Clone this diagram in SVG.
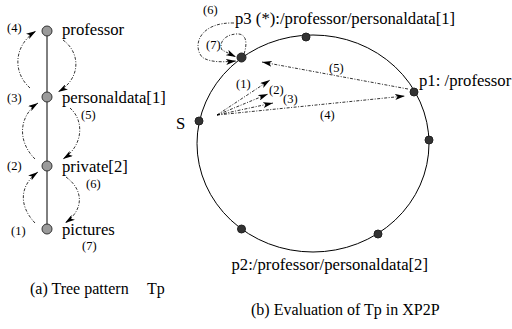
<svg xmlns="http://www.w3.org/2000/svg" width="512" height="329" viewBox="0 0 512 329">
<style>
text{font-family:'Liberation Serif','DejaVu Serif',serif;fill:#000}
.t{font-size:16.7px}
.s{font-size:12.5px}
.c{font-size:16px}
.tn{fill:#9a9a9a;stroke:#333;stroke-width:1}
.rn{fill:#333;stroke:#222;stroke-width:1}
.e{fill:none;stroke:#000;stroke-width:1}
.d{fill:none;stroke:#000;stroke-width:0.8;stroke-dasharray:3,1.5,1,1.5}
</style>
<defs>
<marker id="ah" viewBox="0 0 10 6" refX="10" refY="3" markerWidth="10" markerHeight="6" markerUnits="userSpaceOnUse" orient="auto">
<path d="M0,0 L10,3 L0,6 L2.5,3 Z" fill="#000"/>
</marker>
</defs>
<rect width="512" height="329" fill="#fff"/>
<g id="tree-edges">
<line class="e" x1="47" y1="31" x2="47" y2="229"/>
</g>
<g id="n-professor"><circle class="tn" cx="47" cy="31" r="5"/><text class="t" x="62" y="35">professor</text><text class="s" x="7" y="32">(4)</text></g>
<g id="n-personaldata"><circle class="tn" cx="47" cy="97" r="5"/><text class="t" x="62" y="103">personaldata[1]</text><text class="s" x="7" y="102">(3)</text></g>
<g id="n-private"><circle class="tn" cx="47" cy="166" r="5"/><text class="t" x="62" y="172">private[2]</text><text class="s" x="7" y="170">(2)</text></g>
<g id="n-pictures"><circle class="tn" cx="47" cy="229" r="5"/><text class="t" x="62" y="235">pictures</text><text class="s" x="11" y="235">(1)</text></g>
<g id="tree-connectors">
<path class="d" d="M30,88 C12,72 14,45 36,31" marker-end="url(#ah)"/>
<path class="d" d="M63,40 C80,52 82,78 58,92" marker-end="url(#ah)"/>
<path class="d" d="M35,159 C16,140 20,115 38,103" marker-end="url(#ah)"/>
<path class="d" d="M70,108 C84,120 84,145 63,159" marker-end="url(#ah)"/>
<path class="d" d="M35,223 C18,205 20,185 38,172" marker-end="url(#ah)"/>
<path class="d" d="M66,177 C84,190 84,210 65,223" marker-end="url(#ah)"/>
<text class="s" x="81" y="119">(5)</text>
<text class="s" x="86" y="188">(6)</text>
<text class="s" x="82" y="250">(7)</text>
</g>
<text class="c" x="30" y="294">(a) Tree pattern</text>
<text class="c" x="147" y="294">Tp</text>
<g id="ring"><ellipse class="e" cx="313" cy="143.5" rx="116" ry="108.5"/></g>
<g id="n-S"><circle class="rn" cx="199" cy="121" r="4"/><text class="t" x="176" y="129">S</text></g>
<g id="n-p3"><circle class="rn" cx="241.5" cy="57.5" r="4.5"/><text class="t" x="235" y="24">p3 (*):/professor/personaldata[1]</text></g>
<g id="n-top"><circle class="rn" cx="306" cy="37" r="4"/></g>
<g id="n-p1"><circle class="rn" cx="414" cy="92" r="4"/><text class="t" x="419" y="86">p1: /professor</text></g>
<g id="n-right"><circle class="rn" cx="429" cy="140" r="4"/></g>
<g id="n-br"><circle class="rn" cx="378" cy="234" r="4"/></g>
<g id="n-bl"><circle class="rn" cx="241.5" cy="229" r="4"/></g>
<g id="n-p2"><text class="t" x="428" y="270" text-anchor="end">p2:/professor/personaldata[2]</text></g>
<g id="ring-connectors">
<path class="d" d="M217,115 L270,80" marker-end="url(#ah)"/>
<path class="d" d="M217,115 L268,94" marker-end="url(#ah)"/>
<path class="d" d="M217,115 L273,103" marker-end="url(#ah)"/>
<path class="d" d="M217,115 L405,96" marker-end="url(#ah)"/>
<path class="d" d="M408,89 L262,62" marker-end="url(#ah)"/>
<path class="d" d="M234,23 C200,22 192,45 202,57 C210,63 225,62 236,61" marker-end="url(#ah)"/>
<path class="d" d="M244,54 C248,42 246,33 236,34 C223,35 219,44 222,50 L236,57" marker-end="url(#ah)"/>
<text class="s" x="236" y="88">(1)</text>
<text class="s" x="269" y="94">(2)</text>
<text class="s" x="283" y="103">(3)</text>
<text class="s" x="320" y="119">(4)</text>
<text class="s" x="329" y="72">(5)</text>
<text class="s" x="203" y="14">(6)</text>
<text class="s" x="206" y="49">(7)</text>
</g>
<text class="c" x="251" y="315">(b) Evaluation of Tp in XP2P</text>
</svg>
